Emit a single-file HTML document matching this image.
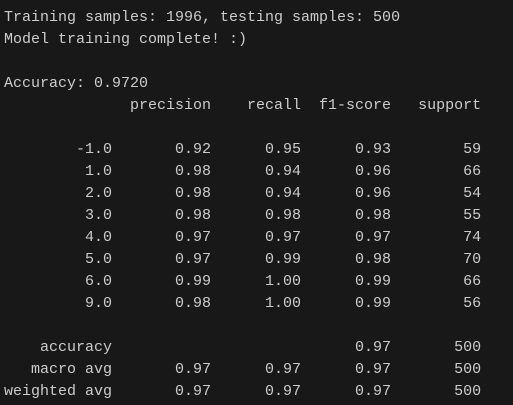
<!DOCTYPE html>
<html><head><meta charset="utf-8"><style>
html,body{margin:0;padding:0;background:#181818;width:513px;height:405px;overflow:hidden}
pre{margin:0;padding:7px 0 0 4px;font-family:"Liberation Mono",monospace;font-size:15px;line-height:22px;color:#cccccc;white-space:pre}
</style></head><body>
<pre>Training samples: 1996, testing samples: 500
Model training complete! :)

Accuracy: 0.9720
              precision    recall  f1-score   support

        -1.0       0.92      0.95      0.93        59
         1.0       0.98      0.94      0.96        66
         2.0       0.98      0.94      0.96        54
         3.0       0.98      0.98      0.98        55
         4.0       0.97      0.97      0.97        74
         5.0       0.97      0.99      0.98        70
         6.0       0.99      1.00      0.99        66
         9.0       0.98      1.00      0.99        56

    accuracy                           0.97       500
   macro avg       0.97      0.97      0.97       500
weighted avg       0.97      0.97      0.97       500</pre>
</body></html>
